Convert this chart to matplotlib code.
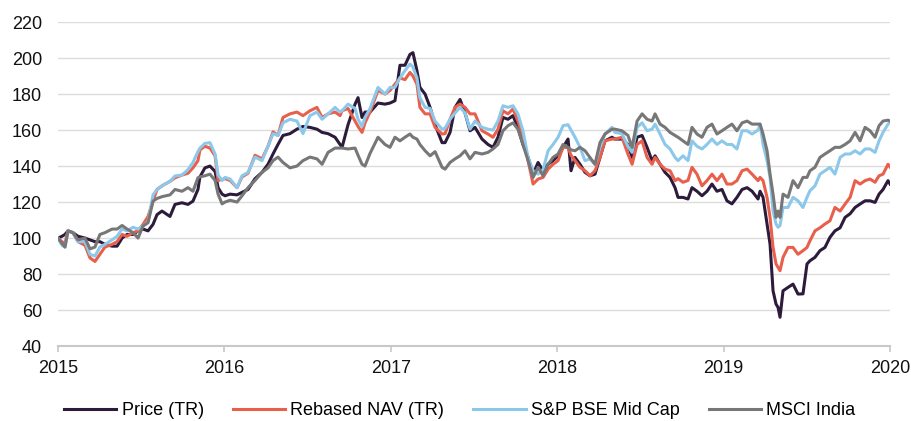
import matplotlib
matplotlib.use("Agg")
import matplotlib.pyplot as plt
import numpy as np

# years since start of 2015
years = [
    0.000, 0.024, 0.042, 0.060, 0.090, 0.120, 0.162, 0.192, 0.222, 0.252,
    0.282, 0.325, 0.355, 0.385, 0.415, 0.451, 0.481, 0.511, 0.541, 0.571,
    0.595, 0.625, 0.673, 0.703, 0.745, 0.781, 0.811, 0.841,
    0.853, 0.883, 0.913, 0.944, 0.962, 0.986, 1.004, 1.034, 1.076, 1.106,
    1.142, 1.184, 1.226, 1.262, 1.292, 1.322, 1.352, 1.394, 1.436, 1.472,
    1.514, 1.556, 1.587, 1.623, 1.665, 1.695, 1.707, 1.743, 1.785, 1.803,
    1.827, 1.845, 1.875, 1.923, 1.965, 1.995, 2.025, 2.055, 2.085, 2.115,
    2.133, 2.157, 2.175, 2.206, 2.236, 2.266, 2.308, 2.326, 2.356, 2.386,
    2.416, 2.446, 2.476, 2.506,
    2.548, 2.584, 2.614, 2.644, 2.674, 2.704, 2.734, 2.764, 2.794, 2.825,
    2.855, 2.885, 2.915, 2.945, 2.975, 3.005, 3.035, 3.065, 3.083, 3.107,
    3.137, 3.167, 3.197, 3.227, 3.257, 3.287, 3.329,
    3.347, 3.389, 3.425, 3.450, 3.480, 3.510, 3.540, 3.570, 3.588, 3.618,
    3.648, 3.678, 3.708, 3.726, 3.756, 3.786, 3.810, 3.840, 3.870, 3.900,
    3.930, 3.960, 3.990, 4.020, 4.050, 4.080, 4.111, 4.141, 4.171, 4.207,
    4.219, 4.237, 4.261, 4.279, 4.297, 4.315, 4.327, 4.339, 4.357, 4.387,
    4.417, 4.447, 4.477, 4.501, 4.519, 4.549, 4.579, 4.609, 4.639, 4.669,
    4.700, 4.730, 4.760, 4.790, 4.820, 4.850, 4.880, 4.910, 4.934, 4.958,
    4.988, 5.000,
]

price = [
    100, 101, 102, 104, 103, 101, 100, 99, 98, 98,
    96.5, 95.5, 95.5, 100, 102, 102, 104, 105, 104, 107.6,
    113, 115, 112, 118.7, 119.6, 118.7, 120.5, 127,
    134, 139, 140, 137, 128, 124.4, 123.5, 124.4, 124, 125.4,
    127, 133, 136.5, 141, 146.7, 152, 157, 158, 160.5, 162,
    161.5, 160.5, 158.7, 158, 156, 152, 150.4, 163, 174.4, 178,
    167, 170, 170, 175, 174.4, 175, 176.3, 196, 196, 202,
    203, 193, 183.7, 180, 172.6, 163, 153, 153, 158.7, 172.6,
    177, 169.5, 159.6, 161.5,
    155, 152, 150.4, 156, 167, 166, 168, 161.5, 152, 144.8,
    135.5, 142, 137.4, 141, 143, 145.7, 150.4, 155, 137.4, 144.8,
    141, 136.5, 134.6, 135.5, 144.8, 154, 156,
    155, 155, 152, 144.8, 156, 157, 150.4, 143, 145.7, 141,
    136.5, 133.7, 128, 122.6, 122.6, 121.7, 128, 126, 123.5, 126,
    130, 126, 127, 120.7, 119, 122.6, 127, 128, 126, 121.7,
    126, 122.6, 107.8, 96.7, 70.7, 63.3, 61.5, 56, 70.7, 72.6,
    74.4, 68.9, 69, 85.6, 87.4, 89.3, 93, 94.8, 100.4, 104,
    105.7, 111.5, 113.5, 117, 118.9, 120.7, 120.7, 119.8, 124.4, 127,
    131.9, 130,
]

nav = [
    100, 98, 97, 104, 103, 98, 96, 89, 87, 91,
    95, 96.5, 98, 102, 101, 103, 104, 107.6, 112, 120.5,
    127, 129, 131.5, 133.5, 135, 136, 139, 143,
    149, 151, 150, 145.7, 132, 132.6, 133, 132, 128, 134,
    136, 146, 144, 151, 159, 157, 167, 169, 170, 168,
    170.7, 172.6, 167, 169, 170, 168, 170.7, 172, 165, 162,
    158.7, 164, 170, 182, 180, 182, 185.5, 189, 188, 192,
    190, 185.5, 172.6, 169, 169, 161.5, 157.8, 158, 166, 172.6,
    174.4, 172.6, 169, 169,
    159.6, 157.8, 156, 160.5, 170.7, 169, 171.7, 165, 157, 143,
    130, 132.8, 133.7, 138.3, 141, 143, 150.4, 150.4, 146, 143,
    139.3, 137.4, 134.6, 137.4, 144.8, 154, 155,
    155, 156, 146.7, 141, 152, 154, 144.8, 141, 144.8, 141,
    138.3, 137.4, 131.9, 133, 131, 132, 139.3, 135.5, 129, 131.9,
    135.5, 131.9, 135.5, 130, 130, 131.9, 137.4, 138.3, 135.5, 131.9,
    133.7, 131.9, 122.6, 111.5, 94.8, 85.6, 83.7, 81.9, 89.3, 94.8,
    94.8, 91, 93, 94.8, 98.5, 104, 105.7, 107.8, 109.6, 117,
    115, 118.9, 122.6, 131.9, 130, 131.9, 132.8, 131, 134.6, 135.5,
    141, 139.5,
]

midcap = [
    100, 96, 95, 104, 103, 98, 98, 91, 90, 95,
    96.5, 99, 101, 105, 104, 106, 105, 106.7, 109, 124,
    127, 129, 131.5, 134.5, 135, 138, 142, 148,
    150, 152.6, 153, 146.7, 135, 132, 133.7, 132.8, 128, 134.6,
    136.5, 145, 143, 151, 158, 157, 164, 166, 165, 158,
    168, 170, 166, 169, 172.6, 170, 170.7, 174.4, 172, 166,
    162, 167, 172, 183.7, 180, 183.7, 183.7, 189, 193, 196.7,
    195, 189, 178, 172.6, 172, 165, 160.5, 161, 166, 169.5,
    172.6, 169.5, 160.5, 165,
    161.5, 160.5, 160, 165, 173.5, 172.6, 173.5, 169, 159.6, 144.8,
    137.4, 135.5, 138, 148.5, 152, 156, 162.4, 163, 160, 156,
    150.4, 143, 144, 141, 150.4, 157.8, 161.5,
    158.7, 158, 151, 147.6, 161.5, 164, 159.6, 160.5, 163.3, 157.8,
    152, 149.5, 144.8, 143, 145.7, 143, 154, 151, 149.5, 152,
    155, 152, 154, 152, 152, 149.5, 159.6, 159.6, 157.8, 160,
    163.3, 152, 143, 133.7, 115, 107.8, 106, 107, 117, 117,
    122.6, 120.7, 117, 122.6, 126.3, 129, 135.5, 137.4, 139.3, 135.5,
    144.8, 146.7, 146.7, 148.5, 146.7, 149.5, 149.5, 147.6, 154, 158.7,
    163.3, 164.3,
]

msci = [
    100, 97, 95, 104, 103, 99, 100, 94, 95, 102,
    103, 105, 105, 107, 105, 103, 100, 106.7, 108.5, 120.5,
    122, 123, 124, 127, 126, 128, 126, 133.5,
    134, 134.6, 135.5, 132, 124.4, 119, 120, 121, 120, 123.5,
    128, 132, 136.5, 139, 143, 145, 142, 139, 140, 143,
    145, 144, 141, 147.6, 150, 150, 150, 149.5, 150, 146,
    141, 140, 147, 156, 152, 150.4, 156, 154, 156, 157.8,
    156, 155, 152, 148.5, 145.7, 148, 139.3, 138.3, 142, 144,
    145.7, 148.5, 144, 147.6,
    146.7, 147.6, 149.5, 152, 159.6, 162.4, 164, 160.5, 152, 143,
    133.7, 139.3, 134.6, 141, 144.8, 146.7, 152, 150.4, 149, 148.5,
    150.4, 148.5, 144.8, 141, 153, 157.8, 160.5,
    160.5, 159.6, 157, 150.4, 165, 169, 166, 165, 169, 163.3,
    161.5, 158.7, 157, 156, 154, 152, 161.5, 157.8, 156, 161.5,
    163.3, 157.8, 159.6, 161.5, 163.3, 159.6, 164, 165, 163.3, 163.3,
    163.3, 157.8, 148.5, 135.5, 124.4, 111.5, 115, 111.5, 124.4, 122.6,
    131.9, 128, 133.7, 133.7, 137.4, 139.3, 144.8, 146.7, 148.5, 150.4,
    150.4, 152, 154, 158.7, 154, 161.5, 159.6, 156, 162.4, 165,
    165.5, 165,
]

labels = ["Price (TR)", "Rebased NAV (TR)", "S&P BSE Mid Cap", "MSCI India"]
colors = ["#2d1b3c", "#e8604c", "#8cc8ea", "#777777"]
year_ticks = [2015, 2016, 2017, 2018, 2019, 2020]
y_ticks = np.arange(40, 221, 20)

plt.rcParams['font.family'] = ['Liberation Sans', 'DejaVu Sans']
plt.rcParams['font.size'] = 13

fig = plt.figure(figsize=(9.12, 4.21), dpi=100)
ax = fig.add_axes([0.0636, 0.178, 0.9123, 0.7696])

x = 2015 + np.array(years)
for series, lab, col in zip([price, nav, midcap, msci], labels, colors):
    ax.plot(x, series, color=col, lw=2.2, label=lab, solid_joinstyle='round')

ax.set_xlim(2015, 2020)
ax.set_ylim(40, 220)
ax.set_xticks(year_ticks)
ax.set_xticklabels([str(y) for y in year_ticks])
ax.set_yticks(y_ticks)

ax.grid(axis='y', color='#dcdcdc', lw=1.0)
ax.set_axisbelow(True)
for s in ['top', 'right', 'left']:
    ax.spines[s].set_visible(False)
ax.spines['bottom'].set_color('#c8c8c8')
ax.spines['bottom'].set_linewidth(1.5)
ax.tick_params(axis='x', direction='out', length=4.5, width=1.2, color='#c8c8c8', pad=5.5, labelcolor='#111111')
ax.tick_params(axis='y', length=0, pad=11.5, labelcolor='#111111')

fig.legend(loc='center', bbox_to_anchor=(0.504, 0.024), ncol=4, frameon=False,
           handlelength=2.9, handletextpad=0.3, columnspacing=1.6, fontsize=13)

fig.savefig("out.png", dpi=100)
